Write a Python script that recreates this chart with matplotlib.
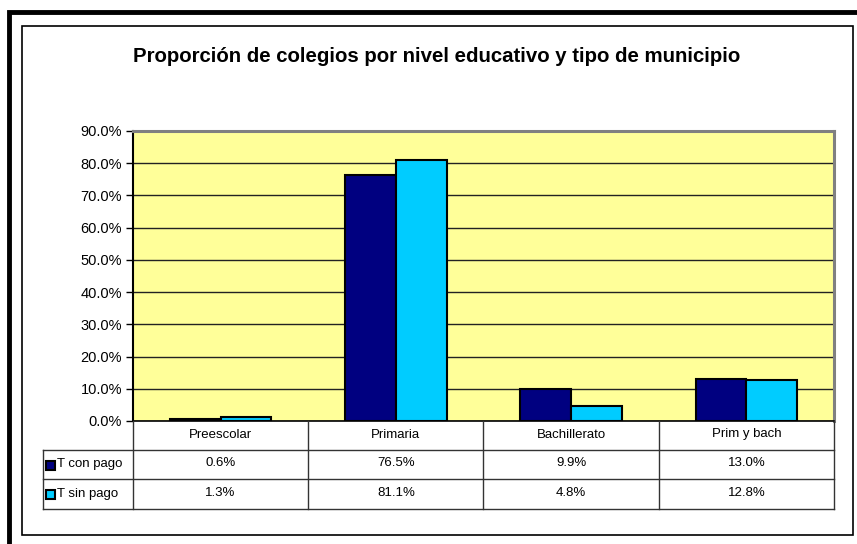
#!/usr/bin/env python3

import numpy as np
import matplotlib
matplotlib.use('Agg')
from matplotlib import pyplot as plt
from matplotlib.patches import Rectangle
from matplotlib.lines import Line2D

plt.rcParams['font.family'] = ['Liberation Sans', 'DejaVu Sans']

title = 'Proporción de colegios por nivel educativo y tipo de municipio'
categories = ['Preescolar', 'Primaria', 'Bachillerato', 'Prim y bach']
series_names = ['T con pago', 'T sin pago']
con_pago = [0.6, 76.5, 9.9, 13.0]
sin_pago = [1.3, 81.1, 4.8, 12.8]
colors = ['#000080', '#00CCFF']

W, H = 857, 544
fig = plt.figure(figsize=(W / 100, H / 100), dpi=100)
fig.patch.set_facecolor('white')


def fx(px):
    return px / W


def fy(py):
    return 1 - py / H


# outer thick frame and inner thin frame
fig.add_artist(Rectangle((fx(9), fy(900)), fx(900), 900 / H - 12 / H,
                         fill=False, ec='black', lw=3.5, transform=fig.transFigure))
fig.add_artist(Rectangle((fx(21.5), fy(534.5)), fx(831), 509 / H,
                         fill=False, ec='black', lw=1.2, transform=fig.transFigure))

fig.text(fx(437), fy(57), title, ha='center', va='center',
         fontsize=14.7, fontweight='bold')

# plot area
left, right, top, bottom = 133, 834, 131, 421
ax = fig.add_axes([fx(left), fy(bottom), fx(right - left), (bottom - top) / H])
ax.set_facecolor('#FFFF99')

x = np.arange(len(categories))
bw = 0.29
ax.bar(x - bw / 2, con_pago, bw, color=colors[0], edgecolor='black', lw=1.5, zorder=3)
ax.bar(x + bw / 2, sin_pago, bw, color=colors[1], edgecolor='black', lw=1.5, zorder=3)

ax.set_xlim(-0.5, len(categories) - 0.5)
ax.set_ylim(0, 90)
ax.set_yticks(np.arange(0, 91, 10))
ax.set_yticklabels(['%.1f%%' % v for v in np.arange(0, 91, 10)], fontsize=10.5)
ax.set_xticks([])
ax.yaxis.grid(True, color='#222222', lw=1)
ax.set_axisbelow(True)
ax.tick_params(axis='y', direction='out', length=5, width=1, color='black', pad=3)
ax.spines['left'].set_color('black')
ax.spines['left'].set_linewidth(1.5)
ax.spines['bottom'].set_color('black')
ax.spines['bottom'].set_linewidth(1.2)
for s in ['top', 'right']:
    ax.spines[s].set_color('#808080')
    ax.spines[s].set_linewidth(2.2)

# data table below the plot
row_lines = [421, 450, 479, 509]
leg_left = 43
line_kw = dict(color='#333333', lw=1, transform=fig.transFigure)
col_edges = [ax.transData.transform((b, 0))[0] for b in np.arange(-0.5, len(categories), 1.0)]
for py in row_lines[1:]:
    fig.add_artist(Line2D([fx(leg_left), fx(right)], [fy(py), fy(py)], **line_kw))
fig.add_artist(Line2D([fx(leg_left), fx(leg_left)], [fy(450), fy(509)], **line_kw))
for px in col_edges:
    fig.add_artist(Line2D([fx(px), fx(px)], [fy(421), fy(509)], **line_kw))


def yc(i):
    return fy((row_lines[i] + row_lines[i + 1]) / 2 - 1)


tkw = dict(ha='center', va='center', fontsize=9.5)
for i, cat in enumerate(categories):
    cx = fx(ax.transData.transform((i, 0))[0])
    fig.text(cx, yc(0), cat, **tkw)
    fig.text(cx, yc(1), '%.1f%%' % con_pago[i], **tkw)
    fig.text(cx, yc(2), '%.1f%%' % sin_pago[i], **tkw)

for r, (name, c) in enumerate(zip(series_names, colors)):
    cy = (row_lines[r + 1] + row_lines[r + 2]) / 2
    fig.add_artist(Rectangle((fx(46), fy(cy + 5)), fx(9), 9 / H, fc=c, ec='black',
                             lw=1.5, transform=fig.transFigure))
    fig.text(fx(57), fy(cy), name, ha='left', va='center', fontsize=9.5)

fig.savefig('out.png', dpi=100)
